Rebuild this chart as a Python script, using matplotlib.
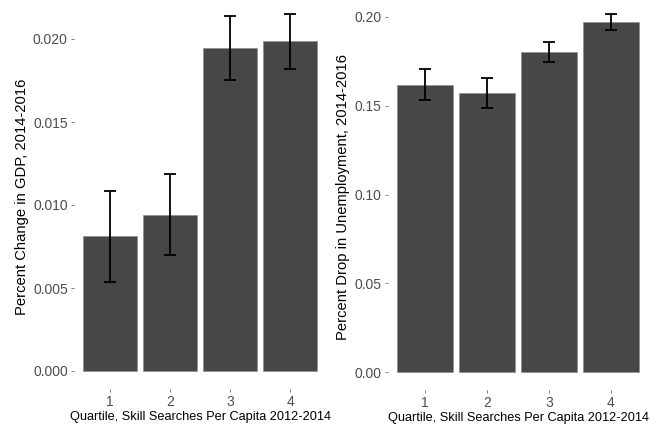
import numpy as np
import matplotlib.pyplot as plt

plt.rcParams['font.family'] = ['Liberation Sans', 'DejaVu Sans']

quartiles = [1, 2, 3, 4]
gdp = [0.00811, 0.00942, 0.01946, 0.01988]
gdp_lo = [0.00534, 0.00697, 0.01753, 0.01821]
gdp_hi = [0.01086, 0.01189, 0.02140, 0.02150]
unemp = [0.1619, 0.1570, 0.1805, 0.1970]
unemp_lo = [0.1532, 0.1486, 0.1748, 0.1925]
unemp_hi = [0.1707, 0.1655, 0.1859, 0.2017]
gdp_ticks = [0.000, 0.005, 0.010, 0.015, 0.020]
unemp_ticks = [0.00, 0.05, 0.10, 0.15, 0.20]

W, H = 660, 426
fig = plt.figure(figsize=(W / 100, H / 100), dpi=100)


def panel(px0, px1, py0, py1, vals, lo, hi, ticks, fmt, ylim, ylabel):
    ax = fig.add_axes([px0 / W, 1 - py1 / H, (px1 - px0) / W, (py1 - py0) / H])
    ax.bar(quartiles, vals, width=0.9, color='#474747', edgecolor='#8a8a8a', linewidth=0.4)
    x = np.array(quartiles)
    ax.vlines(x, lo, hi, color='black', linewidth=1.3)
    ax.hlines(lo, x - 0.1, x + 0.1, color='black', linewidth=1.3)
    ax.hlines(hi, x - 0.1, x + 0.1, color='black', linewidth=1.3)
    ax.set_xlim(0.4, 4.6)
    ax.set_ylim(*ylim)
    ax.set_xticks(quartiles)
    ax.set_xticklabels([str(q) for q in quartiles])
    ax.set_yticks(ticks)
    ax.set_yticklabels([fmt.format(t) for t in ticks])
    for s in ax.spines.values():
        s.set_visible(False)
    ax.tick_params(length=2.5, width=0.5, color='#4d4d4d', labelcolor='#4d4d4d',
                   labelsize=10, pad=2)
    ax.set_xlabel('Quartile, Skill Searches Per Capita 2012-2014', fontsize=9.2,
                  color='black', labelpad=1)
    ax.set_ylabel(ylabel, fontsize=10.6, color='black', labelpad=3)
    return ax


panel(74, 326, 5, 389, gdp, gdp_lo, gdp_hi, gdp_ticks, '{:.3f}',
      (-(389 - 371) / 16600, (371 - 5) / 16600), 'Percent Change in GDP, 2014-2016')
panel(388, 648, 5, 390, unemp, unemp_lo, unemp_hi, unemp_ticks, '{:.2f}',
      (-(390 - 372) / 1775, (372 - 5) / 1775), 'Percent Drop in Unemployment, 2014-2016')

fig.savefig('out.png', dpi=100)
